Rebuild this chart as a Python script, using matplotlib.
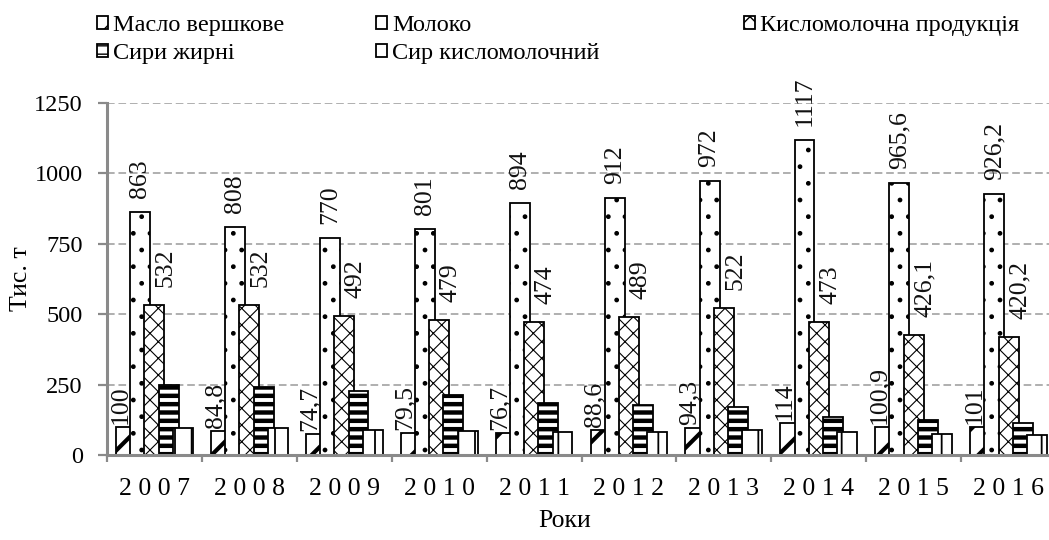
import matplotlib
matplotlib.use("Agg")
import matplotlib.pyplot as plt
from matplotlib.patches import Patch
import numpy as np

years = ["2007", "2008", "2009", "2010", "2011", "2012", "2013", "2014", "2015", "2016"]
series_names = ["Масло вершкове", "Молоко", "Кисломолочна продукція", "Сири жирні", "Сир кисломолочний"]
maslo = [100, 84.8, 74.7, 79.5, 76.7, 88.6, 94.3, 114, 100.9, 101]
moloko = [863, 808, 770, 801, 894, 912, 972, 1117, 965.6, 926.2]
kyslomol = [532, 532, 492, 479, 474, 489, 522, 473, 426.1, 420.2]
syry_zhyrni = [247, 240, 226, 214, 184, 176, 170, 135, 125, 112]
syr_kyslomol = [97, 95, 88, 84, 81, 82, 88, 80, 75, 72]
yticks = [0, 250, 500, 750, 1000, 1250]

plt.rcParams['font.family'] = ['Liberation Serif', 'DejaVu Serif']

W, H = 1049, 540
fig = plt.figure(figsize=(W / 100, H / 100), dpi=100)
L, R, B, T = 107, 1056, 455, 103
ax = fig.add_axes([L / W, (H - B) / H, (R - L) / W, (B - T) / H])

x = np.arange(len(years))
bw = 0.21
step = 0.15
data = [maslo, moloko, kyslomol, syry_zhyrni, syr_kyslomol]
hatches = ['/', '.', 'xx', '--', '|']
hlw = [3.0, 1.0, 0.8, 3.2, 1.3]

containers = []
for i, (vals, hat, lw_h) in enumerate(zip(data, hatches, hlw)):
    offs = (i - 2) * step
    with plt.rc_context({'hatch.linewidth': lw_h, 'hatch.color': 'black'}):
        bc = ax.bar(x + offs, vals, width=bw, facecolor='white', edgecolor='black',
                    linewidth=1.3, hatch=hat, zorder=3 + i * 0.01)
        for p in bc.patches:
            try:
                p.set_hatch_linewidth(lw_h)
            except Exception:
                pass
    containers.append(bc)

def fmt(v):
    if float(v).is_integer():
        return str(int(v))
    return ("%g" % v).replace('.', ',')

label_dx = [-0.06, 0.0, 0.12]
label_gap = [3, 14, 18]
for i in range(3):
    for p, v in zip(containers[i].patches, data[i]):
        cx = p.get_x() + p.get_width() / 2 + label_dx[i]
        ax.annotate(fmt(v), (cx, v), xytext=(0, label_gap[i]), textcoords='offset pixels',
                    rotation=90, ha='center', va='bottom', fontsize=18.5, zorder=6,
                    color='#111111')

ax.set_xlim(-0.5, len(years) - 0.5)
ax.set_ylim(0, 1250)
ax.set_yticks(yticks)
ax.set_yticklabels([str(t) for t in yticks])
ax.set_xticks(x)
ax.set_xticklabels([" ".join(list(y)) for y in years])
ax.set_xticks(np.arange(len(years) + 1) - 0.5, minor=True)

gray = '#8a8a8a'
for s in ['top', 'right']:
    ax.spines[s].set_visible(False)
for s in ['left', 'bottom']:
    ax.spines[s].set_color(gray)
    ax.spines[s].set_linewidth(2.2)
    ax.spines[s].set_zorder(5)

ax.tick_params(axis='y', which='major', direction='out', length=6.5, width=1.6, color=gray,
               pad=11, labelsize=17.5)
ax.tick_params(axis='x', which='major', length=0, pad=16.5, labelsize=18.5)
ax.tick_params(axis='x', which='minor', direction='out', length=5, width=1.6, color=gray)

ax.yaxis.grid(True, color='#9a9a9a', linewidth=1.1, linestyle=(0, (5, 2.5)), zorder=0)
ax.set_axisbelow(True)

ax.set_ylabel("Тис. т", fontsize=18.5)
ax.yaxis.set_label_coords((32 - L) / (R - L), 0.5)
ax.set_xlabel("Роки", fontsize=18.5)
ax.xaxis.set_label_coords((565 - L) / (R - L), (B - 510) / (B - T))

handles = []
for i, bc in enumerate(containers):
    with plt.rc_context({'hatch.linewidth': hlw[i] * 0.6}):
        h = Patch(facecolor='white', edgecolor='black', linewidth=1.3, hatch=hatches[i])
    handles.append(h)

leg_kw = dict(frameon=False, fontsize=17.5, handlelength=0.45, handleheight=0.45,
              handletextpad=0.2, borderpad=0, borderaxespad=0, labelspacing=0.3,
              loc='upper left')
groups = [([0, 3], 97), ([1, 4], 376), ([2], 744)]
for idx, px in groups:
    lg = fig.legend([handles[k] for k in idx], [series_names[k] for k in idx],
                    bbox_to_anchor=(px / W, (H - 15) / H), **leg_kw)

fig.savefig("out.png", dpi=100)
